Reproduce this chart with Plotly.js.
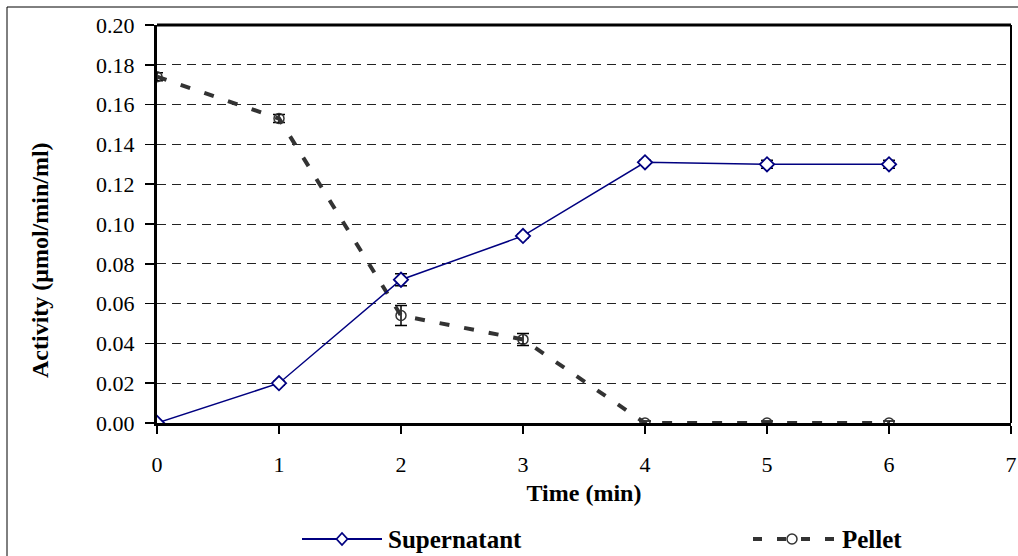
<!DOCTYPE html>
<html><head><meta charset="utf-8">
<script src="https://cdn.plot.ly/plotly-3.0.1.min.js"></script>
<style>html,body{margin:0;padding:0;background:#fff}#chart{width:1018px;height:556px}</style>
</head><body><div id="chart"></div>
<script>
const time = [0, 1, 2, 3, 4, 5, 6];
const supernatant = [0.000, 0.020, 0.072, 0.094, 0.131, 0.130, 0.130];
const supernatantErr = [0.000, 0.001, 0.003, 0.001, 0.001, 0.002, 0.002];
const pellet = [0.174, 0.153, 0.054, 0.042, 0.000, 0.000, 0.000];
const pelletErr = [0.002, 0.002, 0.005, 0.003, 0.001, 0.001, 0.001];
const yTicks = [0, 0.02, 0.04, 0.06, 0.08, 0.10, 0.12, 0.14, 0.16, 0.18, 0.20];
const xTicks = [0, 1, 2, 3, 4, 5, 6, 7];
const seriesNames = ['Supernatant', 'Pellet'];

const font = 'Liberation Serif, Times New Roman, serif';
const navy = '#000080', grey = '#333333';

const traces = [
  {
    x: time, y: pellet, name: seriesNames[1], mode: 'lines+markers', showlegend: false,
    line: {color: grey, width: 4, dash: '10px,15px'},
    marker: {symbol: 'circle-open', size: 10, color: grey, line: {width: 1.5}},
    error_y: {type: 'data', array: pelletErr, visible: true, color: '#000', thickness: 1.5, width: 6}
  },
  {
    x: time, y: supernatant, name: seriesNames[0], mode: 'lines+markers', showlegend: false,
    line: {color: navy, width: 1.5},
    marker: {symbol: 'diamond', size: 11, color: '#ffffff', line: {color: navy, width: 1.8}},
    error_y: {type: 'data', array: supernatantErr, visible: true, color: '#000', thickness: 1.5, width: 6}
  }
];

// paper-coordinate helpers (plot area: left 157, right 1011, top 25, bottom 423)
const L = 157, R = 1011, T = 25, B = 423;
const px = v => (v - L) / (R - L);
const py = v => (B - v) / (B - T);
const legY = py(539);

const layout = {
  width: 1018, height: 556,
  margin: {l: L, r: 1018 - R, t: T, b: 556 - B, autoexpand: false},
  paper_bgcolor: '#fff', plot_bgcolor: '#fff',
  font: {family: font, size: 22, color: '#000'},
  showlegend: false,
  xaxis: {
    range: [0, 7], tickvals: xTicks, ticktext: xTicks.map(String),
    showgrid: false, zeroline: false,
    showline: true, linecolor: '#000', linewidth: 3,
    ticks: 'outside', ticklen: 8, tickwidth: 1.5, tickcolor: '#000',
    ticklabelstandoff: 12, ticklabeloverflow: 'allow',
    tickfont: {family: font, size: 22},
    title: {text: 'Time (min)', font: {family: font, size: 24, weight: 'bold'}, standoff: 8}
  },
  yaxis: {
    range: [0, 0.2], tickvals: yTicks, ticktext: yTicks.map(v => v.toFixed(2)),
    showgrid: true, gridcolor: '#222', gridwidth: 1, griddash: '9px,6px',
    zeroline: false,
    showline: true, linecolor: '#000', linewidth: 3,
    ticks: 'outside', ticklen: 9, tickwidth: 1.5, tickcolor: '#000',
    ticklabelstandoff: 6,
    tickfont: {family: font, size: 22}
  },
  annotations: [
    {xref: 'paper', yref: 'paper', x: px(40), y: py(260), text: 'Activity (μmol/min/ml)', textangle: -90,
     showarrow: false, xanchor: 'center', yanchor: 'middle', font: {family: font, size: 24, weight: 'bold'}},
    {xref: 'paper', yref: 'paper', x: px(386), y: legY, text: seriesNames[0], showarrow: false,
     xanchor: 'left', yanchor: 'middle', font: {family: font, size: 25, weight: 'bold'}},
    {xref: 'paper', yref: 'paper', x: px(840), y: legY, text: seriesNames[1], showarrow: false,
     xanchor: 'left', yanchor: 'middle', font: {family: font, size: 25, weight: 'bold'}}
  ],
  shapes: [
    {type: 'line', xref: 'paper', yref: 'paper', x0: 0, x1: 1, y0: 1, y1: 1, line: {color: '#000', width: 3}},
    {type: 'line', xref: 'paper', yref: 'paper', x0: 1, x1: 1, y0: 0, y1: 1, line: {color: '#000', width: 2}},
    {type: 'rect', xref: 'paper', yref: 'paper', x0: px(7), x1: 1.2, y0: -0.5, y1: py(7), line: {color: '#000', width: 1}, layer: 'below'},
    // legend: Supernatant
    {type: 'line', xref: 'paper', yref: 'paper', x0: px(302), x1: px(382), y0: legY, y1: legY, line: {color: navy, width: 1.8}},
    {type: 'path', xref: 'paper', yref: 'paper', xsizemode: 'pixel', ysizemode: 'pixel', xanchor: px(342), yanchor: legY,
     path: 'M -5.5,0 L 0,6 L 5.5,0 L 0,-6 Z', fillcolor: '#fff', line: {color: navy, width: 1.8}},
    // legend: Pellet
    {type: 'line', xref: 'paper', yref: 'paper', x0: px(753), x1: px(840), y0: legY, y1: legY, line: {color: grey, width: 4, dash: '9px,15px'}},
    {type: 'circle', xref: 'paper', yref: 'paper', xsizemode: 'pixel', ysizemode: 'pixel', xanchor: px(792), yanchor: legY,
     x0: -5, x1: 5, y0: -5, y1: 5, fillcolor: '#fff', line: {color: grey, width: 1.5}}
  ]
};

Plotly.newPlot('chart', traces, layout, {displayModeBar: false, staticPlot: true});
</script></body></html>
